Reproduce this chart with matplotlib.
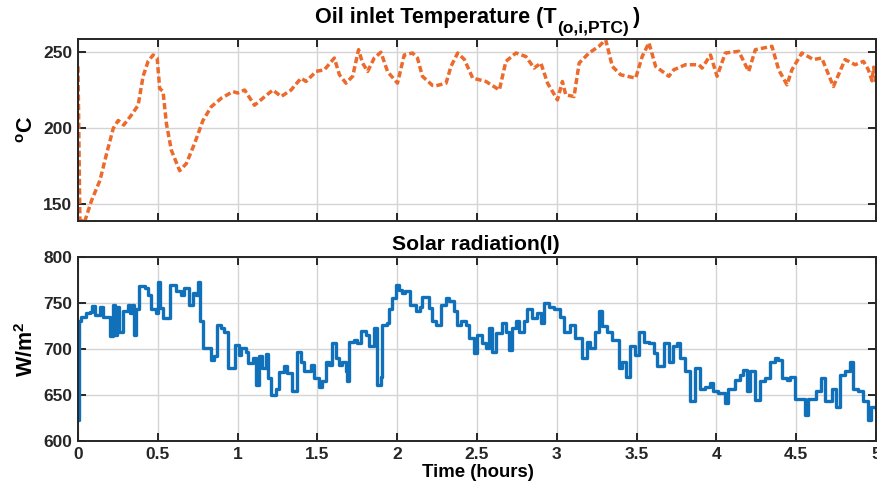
import matplotlib
matplotlib.use("Agg")
import matplotlib.pyplot as plt

plt.rcParams['font.family'] = ['Liberation Sans', 'DejaVu Sans']
plt.rcParams['mathtext.fontset'] = 'custom'
plt.rcParams['mathtext.rm'] = 'Liberation Sans:bold'
plt.rcParams['mathtext.bf'] = 'Liberation Sans:bold'
plt.rcParams['mathtext.it'] = 'Liberation Sans:bold'
plt.rcParams['mathtext.default'] = 'bf'

# Oil inlet temperature (hours, degC)
temp_t = [0.0, 0.005, 0.012, 0.04, 0.085, 0.1375, 0.179, 0.221, 0.252, 0.287, 0.335, 0.377,
          0.408, 0.44, 0.471, 0.496, 0.512, 0.533, 0.554, 0.585, 0.637, 0.679, 0.731,
          0.783, 0.835, 0.898, 0.971, 1.0, 1.044, 1.106, 1.158, 1.221, 1.273, 1.335,
          1.398, 1.429, 1.492, 1.544, 1.606, 1.638, 1.679, 1.721, 1.758, 1.783, 1.815,
          1.856, 1.898, 1.94, 2.002, 2.044, 2.096, 2.127, 2.158, 2.221, 2.244, 2.306,
          2.337, 2.379, 2.421, 2.473, 2.556, 2.64, 2.681, 2.744, 2.806, 2.858, 2.9,
          2.942, 3.004, 3.035, 3.056, 3.108, 3.14, 3.202, 3.264, 3.306, 3.348, 3.4,
          3.494, 3.535, 3.577, 3.619, 3.702, 3.733, 3.806, 3.89, 3.91, 3.963, 4.004,
          4.056, 4.14, 4.202, 4.244, 4.348, 4.39, 4.442, 4.473, 4.535, 4.608, 4.66,
          4.733, 4.806, 4.869, 4.921, 4.952, 4.975, 4.985, 5.0]
temp_v = [240.5, 200.0, 140.0, 138.0, 152.4, 165.6, 183.0, 199.8, 205.0, 202.0, 208.6, 215.0,
          234.0, 244.0, 248.0, 246.0, 226.0, 224.0, 203.0, 185.5, 172.0, 176.7, 190.0,
          205.0, 214.0, 219.6, 224.0, 223.0, 225.0, 215.0, 219.6, 225.0, 220.7, 225.0,
          232.8, 230.6, 237.2, 238.3, 246.0, 235.0, 229.5, 234.0, 251.5, 242.7, 237.2,
          246.0, 249.8, 237.0, 229.5, 248.0, 249.3, 246.0, 234.0, 228.0, 227.8, 229.5,
          240.5, 249.3, 245.0, 232.8, 230.6, 225.0, 243.8, 249.3, 247.0, 239.4, 242.7,
          229.5, 218.5, 230.6, 221.8, 220.7, 242.7, 249.3, 253.7, 258.0, 240.5, 235.0,
          232.8, 247.0, 256.0, 240.5, 234.0, 238.3, 241.6, 241.6, 239.4, 248.0, 234.0,
          249.3, 250.4, 237.2, 251.5, 253.7, 238.3, 228.4, 238.3, 249.3, 245.0, 246.0,
          227.3, 245.0, 241.6, 243.8, 238.3, 231.0, 240.0, 229.5]

# Solar radiation (hours, W/m^2)
sol_t = [0.0, 0.006, 0.021, 0.052, 0.073, 0.09, 0.104, 0.135, 0.156, 0.177, 0.198, 0.219,
         0.229, 0.244, 0.256, 0.281, 0.3125, 0.329, 0.339, 0.354, 0.365, 0.385, 0.417,
         0.4375, 0.458, 0.49, 0.504, 0.516, 0.531, 0.5625, 0.577, 0.615, 0.646, 0.667,
         0.694, 0.719, 0.74, 0.754, 0.765, 0.785, 0.8125, 0.833, 0.854, 0.869, 0.896,
         0.917, 0.9375, 0.969, 0.985, 1.006, 1.02, 1.052, 1.0625, 1.094, 1.115, 1.135,
         1.156, 1.177, 1.1875, 1.208, 1.24, 1.26, 1.29, 1.3125, 1.344, 1.371, 1.396,
         1.417, 1.458, 1.479, 1.51, 1.531, 1.552, 1.573, 1.59, 1.615, 1.635, 1.656,
         1.677, 1.6875, 1.698, 1.729, 1.75, 1.771, 1.802, 1.823, 1.854, 1.871, 1.896,
         1.906, 1.9375, 1.948, 1.969, 1.99, 2.01, 2.03, 2.05, 2.083, 2.115, 2.14,
         2.156, 2.198, 2.219, 2.242, 2.273, 2.304, 2.325, 2.356, 2.377, 2.398, 2.429,
         2.45, 2.481, 2.502, 2.533, 2.554, 2.575, 2.596, 2.617, 2.658, 2.679, 2.7,
         2.721, 2.742, 2.763, 2.794, 2.815, 2.846, 2.877, 2.904, 2.919, 2.95, 2.98,
         3.023, 3.044, 3.085, 3.117, 3.158, 3.19, 3.21, 3.242, 3.267, 3.283, 3.315,
         3.346, 3.388, 3.408, 3.433, 3.46, 3.492, 3.517, 3.544, 3.575, 3.606, 3.627,
         3.669, 3.7, 3.725, 3.752, 3.773, 3.804, 3.835, 3.867, 3.898, 3.929, 3.96,
         3.981, 4.013, 4.054, 4.075, 4.117, 4.148, 4.169, 4.19, 4.21, 4.242, 4.273,
         4.304, 4.335, 4.367, 4.388, 4.408, 4.44, 4.46, 4.492, 4.554, 4.575, 4.596,
         4.627, 4.658, 4.679, 4.721, 4.752, 4.773, 4.804, 4.835, 4.856, 4.888, 4.919,
         4.95, 4.971, 5.0]
sol_v = [623, 730, 735, 739, 740, 747, 737, 746, 735, 735, 714, 748,
         715, 746, 719, 741, 748, 739, 748, 715, 744, 768, 766,
         759, 743, 739, 773, 745, 734, 734, 770, 763, 759, 766,
         748, 761, 759, 773, 730, 701, 701, 688, 692, 726, 723,
         719, 679, 679, 704, 694, 701, 697, 685, 690, 661, 692,
         679, 695, 668, 650, 656, 675, 681, 674, 654, 697, 686,
         676, 683, 668, 659, 665, 686, 683, 706, 690, 683, 686,
         676, 665, 708, 710, 706, 720, 715, 703, 723, 661, 670,
         726, 728, 743, 755, 770, 764, 761, 763, 748, 741, 746,
         757, 745, 730, 726, 748, 755, 752, 741, 726, 730, 726,
         712, 696, 715, 706, 701, 723, 697, 717, 728, 719, 699,
         723, 730, 719, 730, 743, 734, 739, 728, 750, 746, 743,
         735, 719, 726, 712, 690, 708, 701, 719, 741, 725, 719,
         710, 679, 686, 670, 703, 694, 719, 708, 706, 696, 681,
         706, 686, 703, 706, 690, 676, 643, 679, 657, 659, 663,
         654, 652, 641, 657, 666, 672, 677, 654, 676, 645, 665,
         668, 686, 690, 688, 668, 666, 670, 646, 628, 646, 646,
         654, 668, 643, 657, 637, 672, 676, 686, 657, 654, 643,
         623, 637, 635]

x_ticks = [0, 0.5, 1, 1.5, 2, 2.5, 3, 3.5, 4, 4.5, 5]
x_ticklabels = ['0', '0.5', '1', '1.5', '2', '2.5', '3', '3.5', '4', '4.5', '5']
temp_yticks = [150, 200, 250]
sol_yticks = [600, 650, 700, 750, 800]

W, H = 877, 486
fig = plt.figure(figsize=(W / 100, H / 100), dpi=100)
ax1 = fig.add_axes([0.0889, 0.5453, 0.9100, 0.3745])
ax2 = fig.add_axes([0.0889, 0.0926, 0.9100, 0.3786])

spine_c = '#262626'
for ax in (ax1, ax2):
    ax.set_xlim(0, 5)
    ax.set_xticks(x_ticks)
    ax.grid(True, color='#d4d4d4', linewidth=1.0)
    ax.set_axisbelow(True)
    for s in ax.spines.values():
        s.set_color(spine_c)
        s.set_linewidth(1.4)
    ax.tick_params(direction='in', length=6, width=1.4, top=True, right=True,
                   colors=spine_c, labelsize=12.5, pad=4)

ax1.plot(temp_t, temp_v, color='#EC6A2C', linewidth=2.5, linestyle=(0, (1.8, 0.9)))
ax1.set_ylim(139, 258.5)
ax1.set_yticks(temp_yticks)
ax1.set_yticklabels([str(v) for v in temp_yticks], fontweight='bold')
ax1.set_xticklabels([])
ax1.set_ylabel(r'$^{o}$C', fontsize=15.5, fontweight='bold', labelpad=4)

# Title with a lowered subscript, as in the original
fig.text(557 / W, 1 - 23.3 / H, 'Oil inlet Temperature (T', fontsize=15.6,
         fontweight='bold', ha='right', va='baseline', color='black')
fig.text(557 / W, 1 - 33.5 / H, '(o,i,PTC)', fontsize=12.5,
         fontweight='bold', ha='left', va='baseline', color='black')
fig.text(633 / W, 1 - 23.3 / H, ')', fontsize=15.6,
         fontweight='bold', ha='left', va='baseline', color='black')

ax2.plot(sol_t, sol_v, color='#1070BA', linewidth=2.4, drawstyle='steps-post')
ax2.set_ylim(600, 800)
ax2.set_yticks(sol_yticks)
ax2.set_yticklabels([str(v) for v in sol_yticks], fontweight='bold')
ax2.set_xticklabels(x_ticklabels, fontweight='bold')
fig.text(475.5 / W, 1 - 250.5 / H, 'Solar radiation(I)', fontsize=15.2,
         fontweight='bold', ha='center', va='baseline', color='black')
ax2.set_ylabel(r'W/m$^{2}$', fontsize=15.5, fontweight='bold', labelpad=4)
fig.text(478 / W, 1 - 477 / H, 'Time (hours)', fontsize=13.4,
         fontweight='bold', ha='center', va='baseline', color='black')

fig.savefig('out.png', dpi=100)
